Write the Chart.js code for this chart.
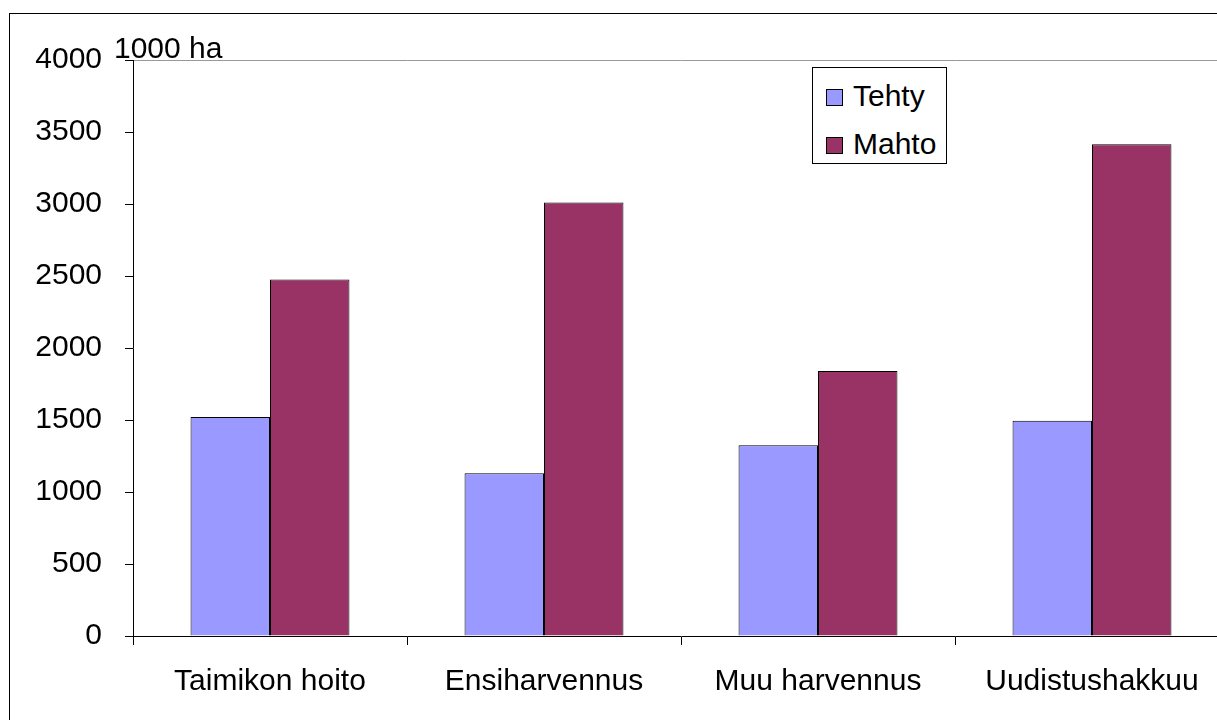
<!DOCTYPE html>
<html>
<head>
<meta charset="utf-8">
<script src="https://cdn.jsdelivr.net/npm/chart.js@4"></script>
<style>
  html, body { margin: 0; padding: 0; background: #fff; overflow: hidden; }
  #wrap { position: relative; width: 1217px; height: 720px; overflow: hidden; }
  #frame { position: absolute; left: 9px; top: 13px; width: 1300px; height: 800px; border: 1px solid #000; }
  #box { position: absolute; left: 0; top: 0; width: 1240px; height: 720px; }
  #legend {
    position: absolute; left: 812px; top: 67px; width: 133px; height: 95px;
    border: 1px solid #000; background: #fff;
    font-family: "Liberation Sans", Arial, sans-serif; font-size: 30px; color: #000;
  }
  #legend div { position: absolute; left: 13px; height: 34px; line-height: 34px; white-space: nowrap; }
  #legend span.sw { display: inline-block; width: 17px; height: 17px; border: 1px solid #000; vertical-align: 0px; margin-right: 10px; box-sizing: border-box; }
</style>
</head>
<body>
<div id="wrap">
  <div id="frame"></div>
  <div id="box"><canvas id="chart" width="1240" height="720"></canvas></div>
  <div id="legend"></div>
</div>
<script>
// Data
const categories = ['Taimikon hoito', 'Ensiharvennus', 'Muu harvennus', 'Uudistushakkuu'];
const tehty = [1520, 1130, 1325, 1495];
const mahto = [2475, 3010, 1840, 3415];
const seriesNames = ['Tehty', 'Mahto'];
const seriesColors = ['#9999ff', '#993366'];
const yTicks = [0, 500, 1000, 1500, 2000, 2500, 3000, 3500, 4000];
const unitLabel = '1000 ha';

const fontFamily = '"Liberation Sans", Arial, sans-serif';

// "1000 ha" label near the top of the y axis
const unitPlugin = {
    id: 'unitLabel',
    afterDraw(chart) {
        const ctx = chart.ctx;
        ctx.save();
        ctx.font = '30px ' + fontFamily;
        ctx.fillStyle = '#000';
        ctx.textAlign = 'left';
        ctx.textBaseline = 'alphabetic';
        ctx.fillText(unitLabel, 114, 58);
        ctx.restore();
    }
};

new Chart(document.getElementById('chart'), {
    type: 'bar',
    data: {
        labels: categories,
        datasets: [{
            label: seriesNames[0],
            data: tehty,
            backgroundColor: seriesColors[0],
            borderColor: '#000',
            borderWidth: 1,
            barPercentage: 1,
            categoryPercentage: 0.58
        }, {
            label: seriesNames[1],
            data: mahto,
            backgroundColor: seriesColors[1],
            borderColor: '#000',
            borderWidth: 1,
            barPercentage: 1,
            categoryPercentage: 0.58
        }]
    },
    options: {
        responsive: false,
        animation: false,
        layout: { padding: { left: 0, top: 60, right: 11, bottom: 0 } },
        plugins: {
            legend: { display: false },
            tooltip: { enabled: false }
        },
        scales: {
            x: {
                afterFit(scale) { scale.height = 84; },
                grid: { drawOnChartArea: false, tickLength: 9, tickColor: '#000', offset: true },
                border: { color: '#000', width: 1 },
                ticks: { color: '#000', font: { family: fontFamily, size: 30 }, padding: 19, maxRotation: 0 }
            },
            y: {
                min: 0,
                max: 4000,
                afterFit(scale) { scale.width = 133; },
                afterBuildTicks(scale) { scale.ticks = yTicks.map(v => ({ value: v })); },
                grid: {
                    color: ctx => (ctx.tick && ctx.tick.value === 4000) ? '#999' : 'rgba(0,0,0,0)',
                    tickColor: '#000',
                    tickLength: 8
                },
                border: { color: '#000', width: 1 },
                ticks: {
                    color: '#000',
                    font: { family: fontFamily, size: 30 },
                    padding: 23,
                    callback: v => String(v)
                }
            }
        }
    },
    plugins: [unitPlugin]
});

// Legend box
const legend = document.getElementById('legend');
seriesNames.forEach(function(name, i) {
    const row = document.createElement('div');
    row.style.top = (i === 0 ? 11 : 59) + 'px';
    row.innerHTML = '<span class="sw" style="background:' + seriesColors[i] + '"></span>' + name;
    legend.appendChild(row);
});
</script>
</body>
</html>
